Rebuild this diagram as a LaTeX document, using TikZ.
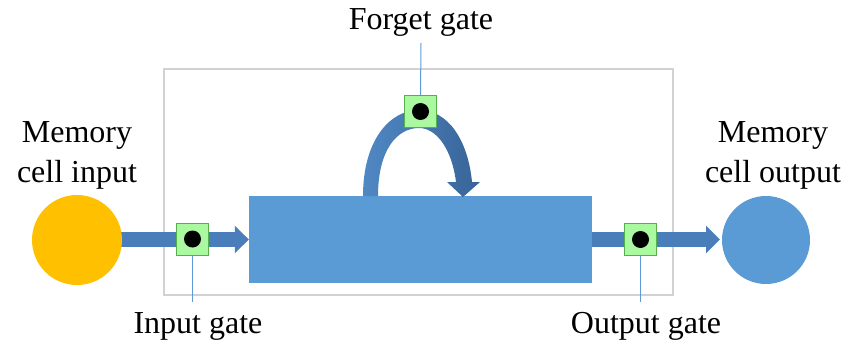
\documentclass[tikz,border=0pt]{standalone}
\usepackage{fontspec}
\setmainfont{Liberation Serif}
\usetikzlibrary{arrows.meta,calc}
\definecolor{cellblue}{RGB}{91,155,213}
\definecolor{flowblue}{RGB}{74,126,187}
\definecolor{flowlight}{RGB}{80,136,196}
\definecolor{flowdark}{RGB}{56,100,152}
\definecolor{cellgold}{RGB}{255,192,0}
\definecolor{gatefill}{RGB}{170,248,160}
\definecolor{gateline}{RGB}{84,176,74}
\definecolor{framegray}{RGB}{210,210,210}
\definecolor{leadblue}{RGB}{91,155,213}
\begin{document}
\begin{tikzpicture}[x=1pt,y=-1pt,
  lbl/.style={font=\fontsize{32}{40}\selectfont, align=center, inner sep=0},
  gatebox/.style={draw=gateline, fill=gatefill, line width=1pt, minimum size=32pt, inner sep=0},
  gatedot/.style={circle, fill=black, minimum size=17pt, inner sep=0},
  flow/.style={draw=flowblue, line width=15pt, -{Triangle[length=14pt,width=27pt]}},
  lead/.style={draw=leadblue, line width=1pt}]
\useasboundingbox (0,0) rectangle (843,345);

% enclosing frame of the cell
\node[draw=framegray, fill=white, line width=1.5pt, minimum width=509pt,
      minimum height=226pt, inner sep=0] (frame) at (418.5,182) {};

% memory cell body, input and output
\node[fill=cellblue, minimum width=343pt, minimum height=87pt, inner sep=0] (cell) at (420.5,239.5) {};
\coordinate (inedge) at (120,239.5);
\coordinate (outedge) at (720,239.5);

% flow arrows
\draw[flow] (inedge) -- (cell.west);
\draw[flow] (cell.east) -- (outedge);

\node[circle, fill=cellgold, minimum size=90pt, inner sep=0] (incirc) at (77,240) {};
\node[circle, fill=cellblue, minimum size=88pt, inner sep=0] (outcirc) at (766,240) {};

% recurrent (forget) loop arrow
\shade[left color=flowlight, right color=flowdark]
  (363,196) .. controls (363,140) and (390,110) .. (419,110)
  .. controls (448,110) and (468,140) .. (472,182)
  -- (480,182) -- (463,197) -- (447,182) -- (456,182)
  .. controls (452,150) and (437,128) .. (419,128)
  .. controls (397,128) and (378,150) .. (378,196) -- cycle;

% gates
\node[gatebox] (ig) at (192.5,239) {};
\node[gatedot] at (ig) {};
\node[gatebox] (og) at (640.5,239.5) {};
\node[gatedot] at (og) {};
\node[gatebox] (fg) at (420.5,111.5) {};
\node[gatedot] at (fg) {};

% labels
\node[lbl] (inlbl) at (77,155) {Memory\\cell input};
\node[lbl] (outlbl) at (773,155) {Memory\\cell output};
\node[lbl] (fglbl) at (421,22) {Forget gate};
\node[lbl] (iglbl) at (198,326) {Input gate};
\node[lbl] (oglbl) at (646,326) {Output gate};

% leader lines from gates to their labels
\coordinate (fgend) at (421,43);
\coordinate (igend) at (192.5,302);
\coordinate (ogend) at (640.5,302);
\draw[lead] (fg.north) -- (fgend);
\draw[lead] (ig.south) -- (igend);
\draw[lead] (og.south) -- (ogend);
\end{tikzpicture}
\end{document}
